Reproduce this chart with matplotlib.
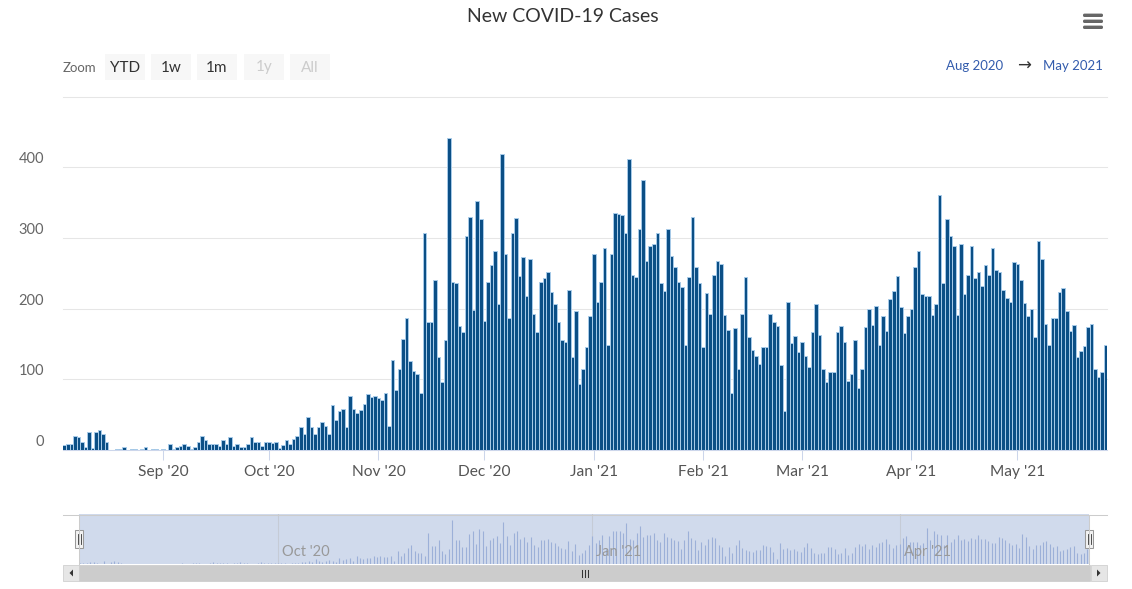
import matplotlib
matplotlib.use('Agg')
import matplotlib.pyplot as plt
import matplotlib.transforms as mtransforms
from matplotlib.patches import Rectangle, FancyBboxPatch, Polygon
import pandas as pd

plt.rcParams['font.family'] = ['Lato', 'DejaVu Sans']

# ---------------- data ----------------
title = "New COVID-19 Cases"
start_date = "2020-08-04"
cases_aug = [7, 8, 8, 20, 19, 12, 4, 26, 3, 25, 28, 23, 12, 0, 0, 2, 2, 4, 0, 2, 2, 0, 2, 4, 0, 2, 2, 0]
cases_sep = [2, 0, 9, 2, 4, 6, 8, 6, 1, 4, 11, 20, 14, 9, 9, 9, 5, 14, 8, 18, 6, 8, 4, 4, 8, 18, 12, 12, 6, 12]
cases_oct = [12, 10, 12, 3, 7, 14, 8, 16, 20, 32, 23, 46, 32, 23, 32, 39, 34, 23, 63, 43, 55, 58, 32, 76, 58,
             53, 57, 65, 79, 75, 76]
cases_nov = [73, 71, 80, 34, 128, 85, 115, 157, 186, 126, 112, 108, 81, 307, 181, 181, 241, 131, 96, 155, 442,
             238, 236, 175, 167, 302, 330, 198, 352, 327]
cases_dec = [183, 238, 262, 281, 207, 419, 277, 186, 307, 328, 246, 273, 218, 270, 193, 167, 238, 243, 252, 224,
             206, 181, 156, 153, 227, 131, 197, 94, 114, 145, 190]
cases_jan = [277, 209, 238, 286, 149, 277, 335, 334, 333, 307, 412, 248, 245, 313, 382, 268, 289, 291, 307, 236,
             225, 313, 275, 259, 238, 231, 149, 245, 330, 259, 236]
cases_feb = [145, 222, 193, 247, 268, 263, 191, 170, 80, 172, 114, 193, 245, 160, 142, 133, 122, 145, 145, 193,
             181, 175, 120, 55, 209, 151, 161, 138]
cases_mar = [153, 133, 118, 167, 206, 163, 114, 96, 110, 110, 167, 175, 153, 98, 108, 156, 87, 115, 174, 200,
             177, 204, 149, 190, 168, 214, 225, 246, 202, 165, 190]
cases_apr = [199, 259, 282, 221, 218, 218, 191, 206, 360, 236, 327, 303, 289, 191, 292, 221, 248, 289, 243, 252,
             232, 261, 248, 286, 255, 252, 227, 215, 209, 266]
cases_may = [263, 241, 208, 190, 199, 160, 296, 270, 178, 149, 186, 186, 224, 229, 197, 168, 177, 131, 140, 147,
             174, 178, 115, 103, 110, 149]

cases = (cases_aug + cases_sep + cases_oct + cases_nov + cases_dec + cases_jan +
         cases_feb + cases_mar + cases_apr + cases_may)
dates = pd.date_range(start_date, periods=len(cases), freq='D')

month_ticks = pd.date_range('2020-09-01', '2021-05-01', freq='MS')
month_labels = [d.strftime("%b '%y") for d in month_ticks]
y_ticks = [0, 100, 200, 300, 400]
nav_ticks = pd.to_datetime(['2020-10-01', '2021-01-01', '2021-04-01'])
zoom_buttons = ['YTD', '1w', '1m', '1y', 'All']
zoom_enabled = [True, True, True, False, False]
range_from, range_to = 'Aug 2020', 'May 2021'

# ---------------- figure ----------------
W, H = 1132, 589
fig = plt.figure(figsize=(W / 100, H / 100), dpi=100)
fig.patch.set_facecolor('white')
day = pd.Timedelta(days=1)

# main chart
ax = fig.add_axes([63 / W, 1 - 450 / H, 1044 / W, 353.5 / H])
ax.bar(dates, cases, width=1.0, color='#0b4f86', edgecolor='#a8cbe9', linewidth=0.7, zorder=3)
ax.set_xlim(dates[0] - 0.35 * day, dates[-1] + 0.4 * day)
ax.set_ylim(0, 500)
ax.set_yticks(range(0, 501, 100))
ax.set_yticklabels([])
ax.tick_params(axis='y', length=0)
ax.grid(axis='y', color='#e6e6e6', lw=0.75, zorder=0)
for gl in ax.get_ygridlines():
    gl.set_clip_on(False)
for s in ['top', 'left', 'right']:
    ax.spines[s].set_visible(False)
ax.spines['bottom'].set_color('#ccd6eb')
ax.spines['bottom'].set_linewidth(0.75)
ax.spines['bottom'].set_zorder(4)
ax.set_xticks(month_ticks)
ax.set_xticklabels(month_labels)
ax.tick_params(axis='x', length=7.5, width=0.75, color='#ccd6eb', labelcolor='#555555',
               labelsize=11.2, pad=3.5)
ylab_tr = mtransforms.offset_copy(ax.get_yaxis_transform(), fig=fig, x=-19, y=8, units='dots')
for v in y_ticks:
    ax.text(0, v, str(v), transform=ylab_tr, ha='right', va='center', fontsize=10.5, color='#666666')

# navigator
nav = fig.add_axes([63 / W, 1 - 564 / H, 1044 / W, 50 / H])
sep1 = pd.Timestamp('2020-09-01')
nav.set_xlim(sep1 - 32.96 * day, sep1 + 272.75 * day)
nav.set_ylim(0, 500)
nav.axvspan(dates[0] - 0.3 * day, dates[-1] + 0.5 * day, color=(102 / 255, 133 / 255, 194 / 255, 0.3),
            lw=0, zorder=1)
for t in nav_ticks:
    nav.axvline(t, color='#c5cbd6', lw=0.75, zorder=2)
nav.vlines(dates, 0, cases, color='#9cb0d8', lw=0.8, zorder=3)
navlab_tr = mtransforms.offset_copy(nav.get_xaxis_transform(), fig=fig, x=4, units='dots')
for t in nav_ticks:
    nav.text(t, 0.24, t.strftime("%b '%y"), transform=navlab_tr, ha='left', va='center',
             fontsize=10.5, color='#999999', zorder=4)
nav.set_xticks([])
nav.set_yticks([])
for s in nav.spines.values():
    s.set_visible(False)
nav.patch.set_alpha(0)

# UI overlay in pixel coordinates
ui = fig.add_axes([0, 0, 1, 1])
ui.set_xlim(0, W)
ui.set_ylim(H, 0)
ui.axis('off')
ui.patch.set_alpha(0)

ui.text(563, 17, title, ha='center', va='center', fontsize=14, color='#333333')

for yy in (15.3, 21.3, 27.3):
    ui.add_patch(FancyBboxPatch((1083, yy - 1.7), 20, 3.4, boxstyle='round,pad=0,rounding_size=1.5',
                                fc='#666666', ec='none'))

ui.text(63, 67.5, 'Zoom', ha='left', va='center', fontsize=9.5, color='#666666')
btn_x = [105, 151, 197, 244, 290]
for bx, lab, en in zip(btn_x, zoom_buttons, zoom_enabled):
    ui.add_patch(Rectangle((bx, 54), 40, 26, fc='#f7f7f7', ec='none'))
    ui.text(bx + 20, 67.5, lab, ha='center', va='center', fontsize=11,
            color='#333333' if en else '#cccccc')

ui.text(1003, 65.5, range_from, ha='right', va='center', fontsize=9.5, color='#335cad')
ui.text(1024, 65.5, '\u2192', ha='center', va='center', fontsize=12, color='#333333',
        family=['DejaVu Sans'])
ui.text(1043, 65.5, range_to, ha='left', va='center', fontsize=9.5, color='#335cad')

# navigator outline & handles
ui.plot([63, 1107], [514.5, 514.5], color='#cccccc', lw=0.75)
for hx in (79, 1089):
    ui.plot([hx, hx], [514.5, 564], color='#cccccc', lw=0.75)
    ui.add_patch(Rectangle((hx - 4, 530), 8, 18, fc='#f2f2f2', ec='#999999', lw=0.75))
    for dx in (-1.5, 1.5):
        ui.plot([hx + dx, hx + dx], [534, 544], color='#333333', lw=0.6)

# scrollbar
ui.add_patch(Rectangle((63, 565), 1044, 16, fc='#f2f2f2', ec='#f2f2f2', lw=0.5))
ui.add_patch(Rectangle((79, 565), 1011, 16, fc='#cccccc', ec='#cccccc', lw=0.5))
ui.add_patch(Rectangle((63, 565), 16, 16, fc='#e6e6e6', ec='#cccccc', lw=0.5))
ui.add_patch(Rectangle((1091, 565), 16, 16, fc='#e6e6e6', ec='#cccccc', lw=0.5))
ui.add_patch(Polygon([[73, 569.5], [73, 576.5], [69.5, 573]], closed=True, fc='#333333', ec='none'))
ui.add_patch(Polygon([[1097, 569.5], [1097, 576.5], [1100.5, 573]], closed=True, fc='#333333', ec='none'))
cx = (79 + 1090) / 2
for dx in (-3, 0, 3):
    ui.plot([cx + dx, cx + dx], [569.5, 576.5], color='#333333', lw=0.75)

fig.savefig('out.png', dpi=100)
